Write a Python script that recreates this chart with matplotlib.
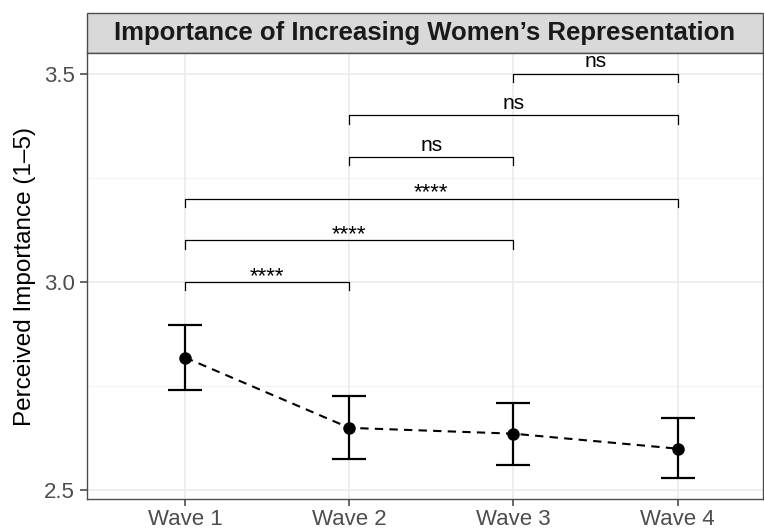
import matplotlib
matplotlib.use('Agg')
import matplotlib.pyplot as plt
from matplotlib.ticker import MultipleLocator

plt.rcParams['font.family'] = ['Liberation Sans', 'DejaVu Sans']

waves = ['Wave 1', 'Wave 2', 'Wave 3', 'Wave 4']
means = [2.818, 2.649, 2.635, 2.599]
lower = [2.741, 2.574, 2.560, 2.528]
upper = [2.897, 2.726, 2.708, 2.673]

# significance brackets: (from wave, to wave, height, label)
pairs = [(1, 2, 3.0, '****'), (1, 3, 3.1, '****'), (1, 4, 3.2, '****'),
         (2, 3, 3.3, 'ns'), (2, 4, 3.4, 'ns'), (3, 4, 3.5, 'ns')]

x = [1, 2, 3, 4]
fig = plt.figure(figsize=(7.64, 5.28), dpi=100)
ax = fig.add_axes([87/764, 29/528, 676/764, 446/528])

for v in [2.5, 3.0, 3.5]:
    ax.axhline(v, color='#ebebeb', lw=1.2, zorder=0)
for v in [2.75, 3.25]:
    ax.axhline(v, color='#f2f2f2', lw=0.8, zorder=0)
for xi in x:
    ax.axvline(xi, color='#ebebeb', lw=1.2, zorder=0)

yerr = [[m - l for m, l in zip(means, lower)], [u - m for m, u in zip(means, upper)]]
ax.plot(x, means, ls=(0, (4, 3)), color='black', lw=1.5, zorder=2)
ax.errorbar(x, means, yerr=yerr, fmt='o', color='black', ms=8,
            capsize=12, capthick=1.6, elinewidth=1.6, zorder=3)

for a, b, h, lab in pairs:
    ax.plot([a, a, b, b], [h - 0.02, h, h, h - 0.02], color='black', lw=0.9)
    if lab == 'ns':
        ax.text((a + b) / 2, h + 0.006, lab, ha='center', va='bottom', fontsize=15)
    else:
        ax.text((a + b) / 2, h - 0.012, lab, ha='center', va='bottom', fontsize=16)

ax.set_xlim(0.4024, 4.52)
ax.set_ylim(2.478, 3.55)
ax.set_xticks(x)
ax.set_xticklabels(waves)
ax.yaxis.set_major_locator(MultipleLocator(0.5))
ax.yaxis.set_major_formatter(matplotlib.ticker.FormatStrFormatter('%.1f'))
ax.tick_params(labelsize=16, colors='#4d4d4d', length=5, width=1.2)
ax.tick_params(axis='x', pad=2)
ax.set_ylabel('Perceived Importance (1–5)', fontsize=17.5, labelpad=6)
for s in ax.spines.values():
    s.set_color('#4d4d4d')
    s.set_linewidth(1.0)

fig.text((87 + 763) / 2 / 764, 1 - 33/528, 'Importance of Increasing Women’s Representation',
         ha='center', va='center', fontsize=18.5, fontweight='bold', color='#1a1a1a')
strip = plt.Rectangle((87/764, 1 - 53/528), 676/764, 40/528, transform=fig.transFigure,
                      fc='#d9d9d9', ec='#4d4d4d', lw=1.0, zorder=-1)
fig.patches.append(strip)

fig.savefig('out.png', dpi=100)
plt.close()
